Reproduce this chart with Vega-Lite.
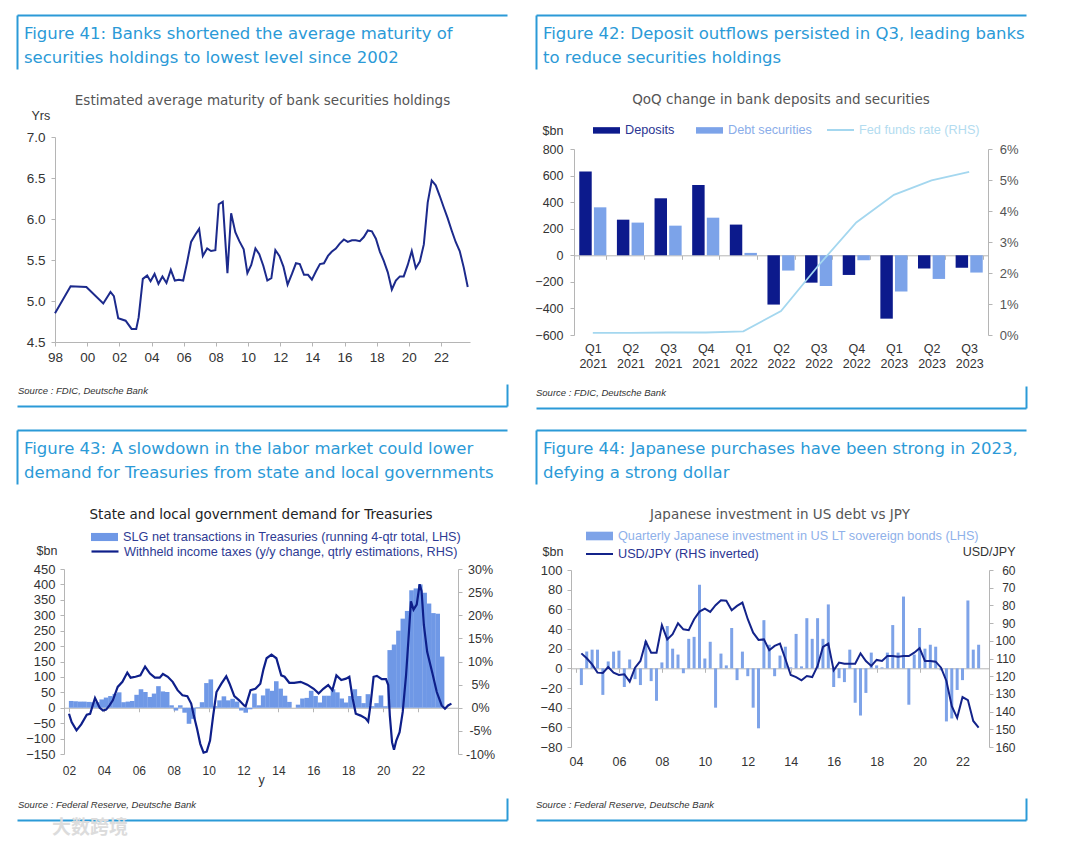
{
  "$schema": "https://vega.github.io/schema/vega-lite/v6.json",
  "background": "white",
  "padding": {"left": 0, "top": 15, "right": 5, "bottom": 2},
  "autosize": {"type": "pad"},
  "config": {
    "font": "Liberation Sans",
    "view": {"stroke": null},
    "axis": {"labelFontSize": 12, "labelColor": "#333", "domainColor": "#b5b5b5", "tickColor": "#b5b5b5", "tickSize": 4, "grid": false, "titleFontWeight": "normal", "titleFontSize": 12.5, "titleColor": "#333", "labelOverlap": false, "labelFlush": false},
    "legend": {"labelFontSize": 12.7, "labelLimit": 600},
    "title": {"fontWeight": "normal", "font": "DejaVu Sans"}
  },
  "title": {"text": "大数跨境", "orient": "bottom", "anchor": "start", "dx": 52, "offset": -1, "fontSize": 19, "font": "Noto Sans CJK SC", "fontWeight": "bold", "color": "#dcdcdc"},
  "resolve": {"scale": {"color": "independent", "stroke": "independent"}},
  "columns": 3,
  "align": "none",
  "spacing": {"row": 22, "column": -20},
  "concat": [
    {"width": 37, "height": 1, "data": {"values": [{}]}, "mark": {"type": "text", "baseline": "top", "fontSize": 1}, "encoding": {"text": {"value": ""}}},
    {
      "resolve": {"scale": {"color": "independent", "stroke": "independent"}},
      "spacing": 16,
      "vconcat": [
        {
          "spacing": 24,
          "vconcat": [
            {
              "width": 452, "height": 54,
              "data": {"values": [{"line": 1, "text": "Figure 41: Banks shortened the average maturity of"}, {"line": 2, "text": "securities holdings to lowest level since 2002"}]},
              "mark": {"type": "text", "align": "left", "baseline": "middle", "dx": 7, "dy": 4, "fontSize": 16.5, "font": "DejaVu Sans", "color": "#2b9ad7"},
              "encoding": {
                "x": {"datum": 0, "type": "quantitative", "scale": {"domain": [0, 1], "range": [-38, 452]}, "axis": {"orient": "top", "domainColor": "#2b9ad7", "domainWidth": 2, "labels": false, "ticks": false, "grid": false, "title": null, "minExtent": 0}},
                "y": {"field": "line", "type": "ordinal", "scale": {"padding": 0.625}, "axis": {"orient": "left", "offset": 38, "domainColor": "#2b9ad7", "domainWidth": 2, "labels": false, "ticks": false, "title": null, "minExtent": 0}},
                "text": {"field": "text"}
              }
            },
            {
              "width": 415, "height": 205,
              "title": {"text": "Estimated average maturity of bank securities holdings", "fontSize": 13.5, "color": "#555", "frame": "group", "anchor": "middle", "offset": 2},
              "data": {"values": [
                {"t": 1998.0, "v": 4.85}, {"t": 1998.97, "v": 5.18}, {"t": 1999.95, "v": 5.17}, {"t": 2001.0, "v": 4.97}, {"t": 2001.45, "v": 5.11}, {"t": 2001.66, "v": 5.06}, {"t": 2001.93, "v": 4.79}, {"t": 2002.39, "v": 4.76}, {"t": 2002.76, "v": 4.66}, {"t": 2003.05, "v": 4.66}, {"t": 2003.2, "v": 4.8}, {"t": 2003.46, "v": 5.27}, {"t": 2003.73, "v": 5.31}, {"t": 2003.94, "v": 5.24}, {"t": 2004.19, "v": 5.33}, {"t": 2004.43, "v": 5.21}, {"t": 2004.68, "v": 5.3}, {"t": 2004.93, "v": 5.22}, {"t": 2005.2, "v": 5.38}, {"t": 2005.45, "v": 5.25}, {"t": 2005.7, "v": 5.26}, {"t": 2005.97, "v": 5.25}, {"t": 2006.21, "v": 5.47}, {"t": 2006.46, "v": 5.72}, {"t": 2006.73, "v": 5.81}, {"t": 2006.96, "v": 5.88}, {"t": 2007.19, "v": 5.55}, {"t": 2007.46, "v": 5.64}, {"t": 2007.7, "v": 5.61}, {"t": 2007.97, "v": 5.62}, {"t": 2008.18, "v": 6.18}, {"t": 2008.43, "v": 6.21}, {"t": 2008.72, "v": 5.34}, {"t": 2008.95, "v": 6.07}, {"t": 2009.21, "v": 5.84}, {"t": 2009.46, "v": 5.73}, {"t": 2009.73, "v": 5.63}, {"t": 2009.96, "v": 5.34}, {"t": 2010.2, "v": 5.44}, {"t": 2010.46, "v": 5.64}, {"t": 2010.7, "v": 5.57}, {"t": 2010.95, "v": 5.43}, {"t": 2011.2, "v": 5.25}, {"t": 2011.45, "v": 5.28}, {"t": 2011.7, "v": 5.62}, {"t": 2011.95, "v": 5.55}, {"t": 2012.2, "v": 5.42}, {"t": 2012.46, "v": 5.2}, {"t": 2012.73, "v": 5.33}, {"t": 2012.98, "v": 5.46}, {"t": 2013.22, "v": 5.45}, {"t": 2013.48, "v": 5.32}, {"t": 2013.73, "v": 5.32}, {"t": 2013.97, "v": 5.26}, {"t": 2014.22, "v": 5.36}, {"t": 2014.47, "v": 5.45}, {"t": 2014.72, "v": 5.46}, {"t": 2014.97, "v": 5.55}, {"t": 2015.2, "v": 5.6}, {"t": 2015.46, "v": 5.64}, {"t": 2015.7, "v": 5.7}, {"t": 2015.96, "v": 5.75}, {"t": 2016.2, "v": 5.72}, {"t": 2016.46, "v": 5.74}, {"t": 2016.7, "v": 5.74}, {"t": 2016.95, "v": 5.73}, {"t": 2017.2, "v": 5.78}, {"t": 2017.45, "v": 5.86}, {"t": 2017.7, "v": 5.85}, {"t": 2017.95, "v": 5.76}, {"t": 2018.2, "v": 5.6}, {"t": 2018.44, "v": 5.49}, {"t": 2018.69, "v": 5.35}, {"t": 2018.94, "v": 5.14}, {"t": 2019.19, "v": 5.25}, {"t": 2019.44, "v": 5.3}, {"t": 2019.68, "v": 5.3}, {"t": 2019.93, "v": 5.44}, {"t": 2020.18, "v": 5.61}, {"t": 2020.43, "v": 5.4}, {"t": 2020.68, "v": 5.48}, {"t": 2020.93, "v": 5.69}, {"t": 2021.17, "v": 6.2}, {"t": 2021.42, "v": 6.47}, {"t": 2021.67, "v": 6.41}, {"t": 2021.92, "v": 6.28}, {"t": 2022.17, "v": 6.14}, {"t": 2022.41, "v": 6.01}, {"t": 2022.66, "v": 5.86}, {"t": 2022.91, "v": 5.72}, {"t": 2023.16, "v": 5.61}, {"t": 2023.41, "v": 5.41}, {"t": 2023.66, "v": 5.17}
              ]},
              "mark": {"type": "line", "color": "#1c2a8c", "strokeWidth": 2},
              "encoding": {
                "x": {"field": "t", "type": "quantitative", "scale": {"domain": [1998, 2023.8], "nice": false, "zero": false}, "axis": {"values": [1998, 2000, 2002, 2004, 2006, 2008, 2010, 2012, 2014, 2016, 2018, 2020, 2022], "labelExpr": "substring(toString(datum.value), 2, 4)", "title": null, "labelPadding": 4, "labelFontSize": 13.5, "minExtent": 26}},
                "y": {"field": "v", "type": "quantitative", "scale": {"domain": [4.5, 7.0], "nice": false, "zero": false}, "axis": {"values": [4.5, 5, 5.5, 6, 6.5, 7], "format": ".1f", "labelPadding": 6, "labelFontSize": 13.5, "minExtent": 38, "title": "Yrs", "titleAngle": 0, "titleAlign": "left", "titleBaseline": "middle", "titleX": -24, "titleY": -22}}
              }
            }
          ]
        },
        {
          "width": 452, "height": 22,
          "data": {"values": [{"src": "Source : FDIC, Deutsche Bank"}]},
          "mark": {"type": "text", "align": "left", "baseline": "middle", "dx": 1, "dy": -4, "fontSize": 9.5, "fontStyle": "italic", "color": "#333"},
          "encoding": {
            "x": {"datum": 0, "type": "quantitative", "scale": {"domain": [0, 1], "range": [-38, 452]}, "axis": {"orient": "bottom", "domainColor": "#2b9ad7", "domainWidth": 2, "labels": false, "ticks": false, "grid": false, "title": null, "minExtent": 0}},
            "y": {"field": "src", "type": "nominal", "axis": {"orient": "right", "domainColor": "#2b9ad7", "domainWidth": 2, "labels": false, "ticks": false, "title": null, "minExtent": 0}},
            "text": {"field": "src"}
          }
        }
      ]
    },
    {
      "resolve": {"scale": {"color": "independent", "stroke": "independent"}},
      "spacing": 16,
      "vconcat": [
        {
          "spacing": 24,
          "resolve": {"scale": {"color": "independent", "stroke": "independent"}},
          "vconcat": [
            {
              "width": 452, "height": 54,
              "data": {"values": [{"line": 1, "text": "Figure 42: Deposit outflows persisted in Q3, leading banks"}, {"line": 2, "text": "to reduce securities holdings"}]},
              "mark": {"type": "text", "align": "left", "baseline": "middle", "dx": 7, "dy": 4, "fontSize": 16.5, "font": "DejaVu Sans", "color": "#2b9ad7"},
              "encoding": {
                "x": {"datum": 0, "type": "quantitative", "scale": {"domain": [0, 1], "range": [-38, 452]}, "axis": {"orient": "top", "domainColor": "#2b9ad7", "domainWidth": 2, "labels": false, "ticks": false, "grid": false, "title": null, "minExtent": 0}},
                "y": {"field": "line", "type": "ordinal", "scale": {"padding": 0.625}, "axis": {"orient": "left", "offset": 38, "domainColor": "#2b9ad7", "domainWidth": 2, "labels": false, "ticks": false, "title": null, "minExtent": 0}},
                "text": {"field": "text"}
              }
            },
            {
              "width": 414, "height": 186,
              "title": {"text": "QoQ change in bank deposits and securities", "fontSize": 13.5, "color": "#555", "frame": "group", "anchor": "middle", "offset": 9},
              "encoding": {
                "x": {"field": "q", "type": "nominal", "scale": {"domain": ["Q1 2021", "Q2 2021", "Q3 2021", "Q4 2021", "Q1 2022", "Q2 2022", "Q3 2022", "Q4 2022", "Q1 2023", "Q2 2023", "Q3 2023"], "paddingInner": 0.28, "paddingOuter": 0.14}, "axis": {"title": null, "labelAngle": 0, "labelExpr": "split(datum.label, ' ')", "offset": -79.7, "labelPadding": 82.7, "tickBand": "extent", "labelLineHeight": 15, "labelFontSize": 12.5}}
              },
              "layer": [
                {
                  "data": {"values": [
                    {"q": "Q1 2021", "s": "Deposits", "v": 630}, {"q": "Q1 2021", "s": "Debt securities", "v": 361},
                    {"q": "Q2 2021", "s": "Deposits", "v": 268}, {"q": "Q2 2021", "s": "Debt securities", "v": 246},
                    {"q": "Q3 2021", "s": "Deposits", "v": 429}, {"q": "Q3 2021", "s": "Debt securities", "v": 223},
                    {"q": "Q4 2021", "s": "Deposits", "v": 529}, {"q": "Q4 2021", "s": "Debt securities", "v": 283},
                    {"q": "Q1 2022", "s": "Deposits", "v": 231}, {"q": "Q1 2022", "s": "Debt securities", "v": 18},
                    {"q": "Q2 2022", "s": "Deposits", "v": -371}, {"q": "Q2 2022", "s": "Debt securities", "v": -115},
                    {"q": "Q3 2022", "s": "Deposits", "v": -206}, {"q": "Q3 2022", "s": "Debt securities", "v": -231},
                    {"q": "Q4 2022", "s": "Deposits", "v": -148}, {"q": "Q4 2022", "s": "Debt securities", "v": -38},
                    {"q": "Q1 2023", "s": "Deposits", "v": -477}, {"q": "Q1 2023", "s": "Debt securities", "v": -273},
                    {"q": "Q2 2023", "s": "Deposits", "v": -100}, {"q": "Q2 2023", "s": "Debt securities", "v": -178},
                    {"q": "Q3 2023", "s": "Deposits", "v": -93}, {"q": "Q3 2023", "s": "Debt securities", "v": -130}
                  ]},
                  "mark": {"type": "bar"},
                  "encoding": {
                    "xOffset": {"field": "s", "type": "nominal", "sort": ["Deposits", "Debt securities"], "scale": {"paddingInner": 0.15}},
                    "y": {"field": "v", "type": "quantitative", "scale": {"domain": [-600, 800], "nice": false}, "axis": {"values": [-600, -400, -200, 0, 200, 400, 600, 800], "labelPadding": 7, "labelFontSize": 12.5, "minExtent": 49, "title": "$bn", "titleAngle": 0, "titleAlign": "left", "titleBaseline": "middle", "titleX": -32, "titleY": -19}},
                    "color": {"field": "s", "type": "nominal", "scale": {"domain": ["Deposits", "Debt securities"], "range": ["#0c1a8c", "#7ca3e9"]}, "legend": {"orient": "none", "legendX": 18, "legendY": -33.5, "direction": "horizontal", "title": null, "symbolType": "M-1,-0.24H1V0.24H-1Z", "symbolSize": 729, "columnPadding": 20, "labelOffset": 4, "encode": {"labels": {"update": {"fill": {"signal": "datum.value === 'Deposits' ? '#2a3592' : '#8aade9'"}}}}}}
                  }
                },
                {
                  "data": {"values": [
                    {"q": "Q1 2021", "r": 0.07}, {"q": "Q2 2021", "r": 0.07}, {"q": "Q3 2021", "r": 0.08}, {"q": "Q4 2021", "r": 0.08}, {"q": "Q1 2022", "r": 0.12}, {"q": "Q2 2022", "r": 0.77}, {"q": "Q3 2022", "r": 2.25}, {"q": "Q4 2022", "r": 3.63}, {"q": "Q1 2023", "r": 4.52}, {"q": "Q2 2023", "r": 4.99}, {"q": "Q3 2023", "r": 5.26}
                  ]},
                  "mark": {"type": "line", "strokeWidth": 1.8},
                  "encoding": {
                    "y": {"field": "r", "type": "quantitative", "scale": {"domain": [0, 6], "nice": false}, "axis": {"orient": "right", "values": [0, 1, 2, 3, 4, 5, 6], "labelExpr": "datum.value + '%'", "labelAlign": "right", "labelPadding": 26, "labelFontSize": 13, "labelColor": "#555", "title": null}},
                    "stroke": {"datum": "Fed funds rate (RHS)", "scale": {"range": ["#a4d7ef"]}, "legend": {"orient": "none", "legendX": 252, "legendY": -33.5, "title": null, "symbolType": "stroke", "symbolSize": 729, "symbolStrokeWidth": 2, "labelColor": "#b3dcf0"}}
                  }
                }
              ],
              "resolve": {"scale": {"y": "independent"}}
            }
          ]
        },
        {
          "width": 452, "height": 22,
          "data": {"values": [{"src": "Source : FDIC, Deutsche Bank"}]},
          "mark": {"type": "text", "align": "left", "baseline": "middle", "dx": 0, "dy": -4, "fontSize": 9.5, "fontStyle": "italic", "color": "#333"},
          "encoding": {
            "x": {"datum": 0, "type": "quantitative", "scale": {"domain": [0, 1], "range": [-38, 452]}, "axis": {"orient": "bottom", "domainColor": "#2b9ad7", "domainWidth": 2, "labels": false, "ticks": false, "grid": false, "title": null, "minExtent": 0}},
            "y": {"field": "src", "type": "nominal", "axis": {"orient": "right", "domainColor": "#2b9ad7", "domainWidth": 2, "labels": false, "ticks": false, "title": null, "minExtent": 0}},
            "text": {"field": "src"}
          }
        }
      ]
    },
    {"width": 37, "height": 1, "data": {"values": [{}]}, "mark": {"type": "text", "baseline": "top", "fontSize": 1}, "encoding": {"text": {"value": ""}}},
    {
      "resolve": {"scale": {"color": "independent", "stroke": "independent"}},
      "spacing": 11,
      "vconcat": [
        {
          "spacing": 24,
          "resolve": {"scale": {"color": "independent", "stroke": "independent"}},
          "vconcat": [
            {
              "width": 443, "height": 54,
              "data": {"values": [{"line": 1, "text": "Figure 43: A slowdown in the labor market could lower"}, {"line": 2, "text": "demand for Treasuries from state and local governments"}]},
              "mark": {"type": "text", "align": "left", "baseline": "middle", "dx": 7, "dy": 4, "fontSize": 16.5, "font": "DejaVu Sans", "color": "#2b9ad7"},
              "encoding": {
                "x": {"datum": 0, "type": "quantitative", "scale": {"domain": [0, 1], "range": [-47, 443]}, "axis": {"orient": "top", "domainColor": "#2b9ad7", "domainWidth": 2, "labels": false, "ticks": false, "grid": false, "title": null, "minExtent": 0}},
                "y": {"field": "line", "type": "ordinal", "scale": {"padding": 0.625}, "axis": {"orient": "left", "offset": 47, "domainColor": "#2b9ad7", "domainWidth": 2, "labels": false, "ticks": false, "title": null, "minExtent": 0}},
                "text": {"field": "text"}
              }
            },
            {
              "width": 394, "height": 185,
              "title": {"text": "State and local government demand for Treasuries", "fontSize": 13.5, "color": "#222", "frame": "group", "anchor": "middle", "offset": 1},
              "encoding": {
                "x": {"field": "t", "type": "quantitative", "scale": {"domain": [2002, 2024], "nice": false, "zero": false}, "axis": {"values": [2002, 2004, 2006, 2008, 2010, 2012, 2014, 2016, 2018, 2020, 2022], "labelExpr": "substring(toString(datum.value), 2, 4)", "offset": -46.25, "labelPadding": 54, "labelFontSize": 12, "title": "y", "titlePadding": -3}}
              },
              "layer": [
                {
                  "data": {"values": [
                    {"t": 2002.125, "v": 22}, {"t": 2002.375, "v": 21}, {"t": 2002.625, "v": 20}, {"t": 2002.875, "v": 20}, {"t": 2003.125, "v": 19}, {"t": 2003.375, "v": 18}, {"t": 2003.625, "v": 18}, {"t": 2003.875, "v": 27}, {"t": 2004.125, "v": 33}, {"t": 2004.375, "v": 38}, {"t": 2004.625, "v": 45}, {"t": 2004.875, "v": 50}, {"t": 2005.125, "v": 18}, {"t": 2005.375, "v": 20}, {"t": 2005.625, "v": 22}, {"t": 2005.875, "v": 42}, {"t": 2006.125, "v": 60}, {"t": 2006.375, "v": 51}, {"t": 2006.625, "v": 35}, {"t": 2006.875, "v": 46}, {"t": 2007.125, "v": 70}, {"t": 2007.375, "v": 53}, {"t": 2007.625, "v": 51}, {"t": 2007.875, "v": 8}, {"t": 2008.125, "v": -9}, {"t": 2008.375, "v": 8}, {"t": 2008.625, "v": -16}, {"t": 2008.875, "v": -52}, {"t": 2009.125, "v": -36}, {"t": 2009.375, "v": 2}, {"t": 2009.625, "v": 18}, {"t": 2009.875, "v": 80}, {"t": 2010.125, "v": 92}, {"t": 2010.375, "v": 5}, {"t": 2010.625, "v": 24}, {"t": 2010.875, "v": 37}, {"t": 2011.125, "v": 24}, {"t": 2011.375, "v": 29}, {"t": 2011.625, "v": 20}, {"t": 2011.875, "v": -9}, {"t": 2012.125, "v": -16}, {"t": 2012.375, "v": -5}, {"t": 2012.625, "v": 46}, {"t": 2012.875, "v": 8}, {"t": 2013.125, "v": 40}, {"t": 2013.375, "v": 62}, {"t": 2013.625, "v": 55}, {"t": 2013.875, "v": 86}, {"t": 2014.125, "v": 62}, {"t": 2014.375, "v": 39}, {"t": 2014.625, "v": 19}, {"t": 2014.875, "v": 0}, {"t": 2015.125, "v": 10}, {"t": 2015.375, "v": 30}, {"t": 2015.625, "v": 32}, {"t": 2015.875, "v": 55}, {"t": 2016.125, "v": 38}, {"t": 2016.375, "v": 17}, {"t": 2016.625, "v": 39}, {"t": 2016.875, "v": 39}, {"t": 2017.125, "v": 60}, {"t": 2017.375, "v": 50}, {"t": 2017.625, "v": 30}, {"t": 2017.875, "v": 17}, {"t": 2018.125, "v": 38}, {"t": 2018.375, "v": 60}, {"t": 2018.625, "v": 38}, {"t": 2018.875, "v": 15}, {"t": 2019.125, "v": 44}, {"t": 2019.375, "v": 5}, {"t": 2019.625, "v": 15}, {"t": 2019.875, "v": 40}, {"t": 2020.125, "v": 5}, {"t": 2020.375, "v": 187}, {"t": 2020.625, "v": 205}, {"t": 2020.875, "v": 250}, {"t": 2021.125, "v": 289}, {"t": 2021.375, "v": 314}, {"t": 2021.625, "v": 381}, {"t": 2021.875, "v": 387}, {"t": 2022.125, "v": 400}, {"t": 2022.375, "v": 373}, {"t": 2022.625, "v": 338}, {"t": 2022.875, "v": 307}, {"t": 2023.125, "v": 305}, {"t": 2023.375, "v": 166}
                  ]},
                  "mark": {"type": "bar", "size": 4.6},
                  "encoding": {
                    "y": {"field": "v", "type": "quantitative", "scale": {"domain": [-150, 450], "nice": false}, "axis": {"values": [-150, -100, -50, 0, 50, 100, 150, 200, 250, 300, 350, 400, 450], "labelPadding": 5, "labelFontSize": 13, "minExtent": 47, "title": "$bn", "titleAngle": 0, "titleAlign": "left", "titleBaseline": "middle", "titleX": -28, "titleY": -19}},
                    "color": {"datum": "SLG net transactions in Treasuries (running 4-qtr total, LHS)", "type": "nominal", "scale": {"range": ["#6f98e6"]}, "legend": {"orient": "none", "legendX": 26, "legendY": -46.5, "title": null, "symbolType": "M-1,-0.3H1V0.3H-1Z", "symbolSize": 729, "labelColor": "#2e3b94"}}
                  }
                },
                {
                  "data": {"values": [
                    {"t": 2002.0, "p": -1.3}, {"t": 2002.15, "p": -3.1}, {"t": 2002.43, "p": -4.9}, {"t": 2002.7, "p": -3.6}, {"t": 2003.02, "p": -1.5}, {"t": 2003.21, "p": -1.3}, {"t": 2003.49, "p": 2.1}, {"t": 2003.76, "p": 0.0}, {"t": 2003.95, "p": -0.6}, {"t": 2004.13, "p": -0.4}, {"t": 2004.32, "p": 0.5}, {"t": 2004.51, "p": 1.6}, {"t": 2004.79, "p": 4.5}, {"t": 2005.06, "p": 5.6}, {"t": 2005.34, "p": 7.6}, {"t": 2005.53, "p": 6.5}, {"t": 2005.81, "p": 6.7}, {"t": 2006.09, "p": 7.0}, {"t": 2006.36, "p": 8.9}, {"t": 2006.64, "p": 7.4}, {"t": 2006.92, "p": 6.5}, {"t": 2007.2, "p": 6.5}, {"t": 2007.38, "p": 7.3}, {"t": 2007.66, "p": 6.7}, {"t": 2007.94, "p": 5.6}, {"t": 2008.22, "p": 3.8}, {"t": 2008.5, "p": 2.7}, {"t": 2008.78, "p": 2.5}, {"t": 2009.0, "p": 0.9}, {"t": 2009.15, "p": -1.7}, {"t": 2009.34, "p": -4.6}, {"t": 2009.52, "p": -7.8}, {"t": 2009.71, "p": -9.7}, {"t": 2009.89, "p": -9.5}, {"t": 2010.08, "p": -7.1}, {"t": 2010.26, "p": -1.7}, {"t": 2010.45, "p": 3.4}, {"t": 2010.73, "p": 5.2}, {"t": 2011.01, "p": 6.8}, {"t": 2011.2, "p": 5.2}, {"t": 2011.47, "p": 2.5}, {"t": 2011.75, "p": 1.6}, {"t": 2012.03, "p": 0.5}, {"t": 2012.12, "p": 0.3}, {"t": 2012.4, "p": 3.8}, {"t": 2012.68, "p": 4.1}, {"t": 2012.96, "p": 5.2}, {"t": 2013.14, "p": 8.3}, {"t": 2013.32, "p": 10.7}, {"t": 2013.6, "p": 11.5}, {"t": 2013.88, "p": 10.7}, {"t": 2014.16, "p": 7.0}, {"t": 2014.35, "p": 6.7}, {"t": 2014.62, "p": 5.4}, {"t": 2014.9, "p": 5.4}, {"t": 2015.27, "p": 5.6}, {"t": 2015.65, "p": 5.0}, {"t": 2016.02, "p": 4.1}, {"t": 2016.3, "p": 3.1}, {"t": 2016.57, "p": 4.1}, {"t": 2016.85, "p": 4.9}, {"t": 2017.09, "p": 3.8}, {"t": 2017.32, "p": 7.0}, {"t": 2017.6, "p": 6.0}, {"t": 2017.87, "p": 6.3}, {"t": 2018.06, "p": 6.7}, {"t": 2018.25, "p": 2.0}, {"t": 2018.43, "p": -1.3}, {"t": 2018.71, "p": -1.7}, {"t": 2018.99, "p": -2.3}, {"t": 2019.14, "p": -3.0}, {"t": 2019.27, "p": 0.5}, {"t": 2019.45, "p": 6.7}, {"t": 2019.64, "p": 6.9}, {"t": 2019.92, "p": 6.2}, {"t": 2020.16, "p": 6.2}, {"t": 2020.29, "p": 4.9}, {"t": 2020.38, "p": -1.7}, {"t": 2020.51, "p": -7.5}, {"t": 2020.62, "p": -9.1}, {"t": 2020.75, "p": -7.1}, {"t": 2020.94, "p": -5.3}, {"t": 2021.12, "p": -0.9}, {"t": 2021.31, "p": 7.0}, {"t": 2021.44, "p": 14.3}, {"t": 2021.59, "p": 23.0}, {"t": 2021.74, "p": 21.2}, {"t": 2021.92, "p": 22.3}, {"t": 2022.09, "p": 26.7}, {"t": 2022.2, "p": 25.2}, {"t": 2022.33, "p": 17.9}, {"t": 2022.52, "p": 12.1}, {"t": 2022.8, "p": 7.8}, {"t": 2023.07, "p": 3.4}, {"t": 2023.35, "p": 0.5}, {"t": 2023.54, "p": -0.2}, {"t": 2023.72, "p": 0.5}, {"t": 2023.91, "p": 0.9}
                  ]},
                  "mark": {"type": "line", "strokeWidth": 2.2},
                  "encoding": {
                    "y": {"field": "p", "type": "quantitative", "scale": {"domain": [-10, 30], "nice": false}, "axis": {"orient": "right", "values": [-10, -5, 0, 5, 10, 15, 20, 25, 30], "labelExpr": "datum.value + '%'", "labelAlign": "center", "labelPadding": 18, "labelFontSize": 12.5, "title": null}},
                    "stroke": {"datum": "Withheld income taxes (y/y change, qtrly estimations, RHS)", "scale": {"range": ["#0e1f8a"]}, "legend": {"orient": "none", "legendX": 26, "legendY": -32.5, "title": null, "symbolType": "stroke", "symbolSize": 729, "symbolStrokeWidth": 2.2, "labelColor": "#2e3b94"}}
                  }
                }
              ],
              "resolve": {"scale": {"y": "independent"}}
            }
          ]
        },
        {
          "width": 443, "height": 22,
          "data": {"values": [{"src": "Source : Federal Reserve, Deutsche Bank"}]},
          "mark": {"type": "text", "align": "left", "baseline": "middle", "dx": 1, "dy": -4, "fontSize": 9.5, "fontStyle": "italic", "color": "#333"},
          "encoding": {
            "x": {"datum": 0, "type": "quantitative", "scale": {"domain": [0, 1], "range": [-47, 443]}, "axis": {"orient": "bottom", "domainColor": "#2b9ad7", "domainWidth": 2, "labels": false, "ticks": false, "grid": false, "title": null, "minExtent": 0}},
            "y": {"field": "src", "type": "nominal", "axis": {"orient": "right", "domainColor": "#2b9ad7", "domainWidth": 2, "labels": false, "ticks": false, "title": null, "minExtent": 0}},
            "text": {"field": "src"}
          }
        }
      ]
    },
    {
      "resolve": {"scale": {"color": "independent", "stroke": "independent"}},
      "spacing": 11,
      "vconcat": [
        {
          "spacing": 24,
          "resolve": {"scale": {"color": "independent", "stroke": "independent"}},
          "vconcat": [
            {
              "width": 455, "height": 54,
              "data": {"values": [{"line": 1, "text": "Figure 44: Japanese purchases have been strong in 2023,"}, {"line": 2, "text": "defying a strong dollar"}]},
              "mark": {"type": "text", "align": "left", "baseline": "middle", "dx": 7, "dy": 4, "fontSize": 16.5, "font": "DejaVu Sans", "color": "#2b9ad7"},
              "encoding": {
                "x": {"datum": 0, "type": "quantitative", "scale": {"domain": [0, 1], "range": [-35, 455]}, "axis": {"orient": "top", "domainColor": "#2b9ad7", "domainWidth": 2, "labels": false, "ticks": false, "grid": false, "title": null, "minExtent": 0}},
                "y": {"field": "line", "type": "ordinal", "scale": {"padding": 0.625}, "axis": {"orient": "left", "offset": 35, "domainColor": "#2b9ad7", "domainWidth": 2, "labels": false, "ticks": false, "title": null, "minExtent": 0}},
                "text": {"field": "text"}
              }
            },
            {
              "width": 418, "height": 177,
              "title": {"text": "Japanese investment in US debt vs JPY", "fontSize": 13.5, "color": "#555", "frame": "group", "anchor": "middle", "offset": 0},
              "encoding": {
                "x": {"field": "t", "type": "quantitative", "scale": {"domain": [2004, 2023], "nice": false, "zero": false}, "axis": {"values": [2004, 2006, 2008, 2010, 2012, 2014, 2016, 2018, 2020, 2022], "labelExpr": "substring(toString(datum.value), 2, 4)", "offset": -78.7, "labelPadding": 82.7, "labelFontSize": 12.5, "minExtent": 118.5, "title": null}}
              },
              "layer": [
                {
                  "data": {"values": [
                    {"t": 2004.25, "v": -17}, {"t": 2004.5, "v": 17}, {"t": 2004.75, "v": 19}, {"t": 2005.0, "v": 19}, {"t": 2005.25, "v": -27}, {"t": 2005.5, "v": 7}, {"t": 2005.75, "v": 17}, {"t": 2006.0, "v": 18}, {"t": 2006.25, "v": -19}, {"t": 2006.5, "v": 9}, {"t": 2006.75, "v": -11}, {"t": 2007.0, "v": -17}, {"t": 2007.25, "v": 28}, {"t": 2007.5, "v": -13}, {"t": 2007.75, "v": -33}, {"t": 2008.0, "v": 6}, {"t": 2008.25, "v": 43}, {"t": 2008.5, "v": 20}, {"t": 2008.75, "v": 14}, {"t": 2009.0, "v": -5}, {"t": 2009.25, "v": 30}, {"t": 2009.5, "v": 32}, {"t": 2009.75, "v": 85}, {"t": 2010.0, "v": 10}, {"t": 2010.25, "v": 27}, {"t": 2010.5, "v": -40}, {"t": 2010.75, "v": 15}, {"t": 2011.0, "v": 3}, {"t": 2011.25, "v": 41}, {"t": 2011.5, "v": -12}, {"t": 2011.75, "v": 17}, {"t": 2012.0, "v": -8}, {"t": 2012.25, "v": -40}, {"t": 2012.5, "v": -61}, {"t": 2012.75, "v": 49}, {"t": 2013.0, "v": 24}, {"t": 2013.25, "v": -8}, {"t": 2013.5, "v": 13}, {"t": 2013.75, "v": 22}, {"t": 2014.0, "v": 1}, {"t": 2014.25, "v": 35}, {"t": 2014.5, "v": 2}, {"t": 2014.75, "v": 51}, {"t": 2015.0, "v": 30}, {"t": 2015.25, "v": 51}, {"t": 2015.5, "v": 30}, {"t": 2015.75, "v": 65}, {"t": 2016.0, "v": -19}, {"t": 2016.25, "v": -10}, {"t": 2016.5, "v": -14}, {"t": 2016.75, "v": 19}, {"t": 2017.0, "v": -35}, {"t": 2017.25, "v": -48}, {"t": 2017.5, "v": -25}, {"t": 2017.75, "v": 16}, {"t": 2018.0, "v": 3}, {"t": 2018.25, "v": 1}, {"t": 2018.5, "v": 16}, {"t": 2018.75, "v": 44}, {"t": 2019.0, "v": 16}, {"t": 2019.25, "v": 73}, {"t": 2019.5, "v": -37}, {"t": 2019.75, "v": 14}, {"t": 2020.0, "v": 41}, {"t": 2020.25, "v": 20}, {"t": 2020.5, "v": 24}, {"t": 2020.75, "v": 22}, {"t": 2021.0, "v": -2}, {"t": 2021.25, "v": -54}, {"t": 2021.5, "v": -51}, {"t": 2021.75, "v": -22}, {"t": 2022.0, "v": -12}, {"t": 2022.25, "v": 69}, {"t": 2022.5, "v": 19}, {"t": 2022.75, "v": 24}
                  ]},
                  "mark": {"type": "bar", "size": 3},
                  "encoding": {
                    "y": {"field": "v", "type": "quantitative", "scale": {"domain": [-80, 100], "nice": false}, "axis": {"values": [-80, -60, -40, -20, 0, 20, 40, 60, 80, 100], "labelPadding": 5, "labelFontSize": 13, "minExtent": 37, "title": "$bn", "titleAngle": 0, "titleAlign": "left", "titleBaseline": "middle", "titleX": -29, "titleY": -19}},
                    "color": {"datum": "Quarterly Japanese investment in US LT sovereign bonds (LHS)", "type": "nominal", "scale": {"range": ["#7ea3e8"]}, "legend": {"orient": "none", "legendX": 14, "legendY": -48.5, "title": null, "symbolType": "M-1,-0.32H1V0.32H-1Z", "symbolSize": 729, "labelColor": "#8fb1ea"}}
                  }
                },
                {
                  "data": {"values": [
                    {"t": 2004.25, "j": 107.1}, {"t": 2004.5, "j": 109.9}, {"t": 2004.75, "j": 113.3}, {"t": 2005.0, "j": 118.0}, {"t": 2005.25, "j": 118.2}, {"t": 2005.5, "j": 114.8}, {"t": 2005.75, "j": 118.0}, {"t": 2006.0, "j": 119.3}, {"t": 2006.25, "j": 118.9}, {"t": 2006.5, "j": 123.1}, {"t": 2006.75, "j": 115.2}, {"t": 2007.0, "j": 111.4}, {"t": 2007.25, "j": 100.4}, {"t": 2007.5, "j": 106.7}, {"t": 2007.75, "j": 106.7}, {"t": 2008.0, "j": 91.2}, {"t": 2008.25, "j": 99.2}, {"t": 2008.5, "j": 96.3}, {"t": 2008.75, "j": 90.1}, {"t": 2009.0, "j": 93.5}, {"t": 2009.25, "j": 94.0}, {"t": 2009.5, "j": 87.8}, {"t": 2009.75, "j": 83.5}, {"t": 2010.0, "j": 81.8}, {"t": 2010.25, "j": 83.7}, {"t": 2010.5, "j": 79.9}, {"t": 2010.75, "j": 77.1}, {"t": 2011.0, "j": 77.4}, {"t": 2011.25, "j": 82.7}, {"t": 2011.5, "j": 80.3}, {"t": 2011.75, "j": 78.4}, {"t": 2012.0, "j": 87.8}, {"t": 2012.25, "j": 95.4}, {"t": 2012.5, "j": 99.5}, {"t": 2012.75, "j": 99.2}, {"t": 2013.0, "j": 105.3}, {"t": 2013.25, "j": 102.9}, {"t": 2013.5, "j": 101.6}, {"t": 2013.75, "j": 110.3}, {"t": 2014.0, "j": 119.3}, {"t": 2014.25, "j": 120.5}, {"t": 2014.5, "j": 122.3}, {"t": 2014.75, "j": 119.9}, {"t": 2015.0, "j": 120.5}, {"t": 2015.25, "j": 114.2}, {"t": 2015.5, "j": 103.5}, {"t": 2015.75, "j": 101.6}, {"t": 2016.0, "j": 116.7}, {"t": 2016.25, "j": 112.3}, {"t": 2016.5, "j": 112.9}, {"t": 2016.75, "j": 112.9}, {"t": 2017.0, "j": 112.9}, {"t": 2017.25, "j": 107.1}, {"t": 2017.5, "j": 111.4}, {"t": 2017.75, "j": 114.2}, {"t": 2018.0, "j": 110.8}, {"t": 2018.25, "j": 111.4}, {"t": 2018.5, "j": 108.6}, {"t": 2018.75, "j": 108.6}, {"t": 2019.0, "j": 109.0}, {"t": 2019.25, "j": 108.6}, {"t": 2019.5, "j": 108.6}, {"t": 2019.75, "j": 106.7}, {"t": 2020.0, "j": 104.2}, {"t": 2020.25, "j": 111.4}, {"t": 2020.5, "j": 111.4}, {"t": 2020.75, "j": 111.8}, {"t": 2021.0, "j": 115.2}, {"t": 2021.25, "j": 122.7}, {"t": 2021.5, "j": 136.9}, {"t": 2021.75, "j": 143.5}, {"t": 2022.0, "j": 131.8}, {"t": 2022.25, "j": 133.5}, {"t": 2022.5, "j": 145.3}, {"t": 2022.75, "j": 149.1}
                  ]},
                  "mark": {"type": "line", "strokeWidth": 2},
                  "encoding": {
                    "y": {"field": "j", "type": "quantitative", "scale": {"domain": [60, 160], "reverse": true, "nice": false, "zero": false}, "axis": {"orient": "right", "values": [60, 70, 80, 90, 100, 110, 120, 130, 140, 150, 160], "labelAlign": "right", "labelPadding": 22, "labelFontSize": 12, "title": "USD/JPY", "titleAngle": 0, "titleAlign": "right", "titleBaseline": "middle", "titleX": 26, "titleY": -19}},
                    "stroke": {"datum": "USD/JPY (RHS inverted)", "scale": {"range": ["#13238a"]}, "legend": {"orient": "none", "legendX": 14, "legendY": -30.5, "title": null, "symbolType": "stroke", "symbolSize": 729, "symbolStrokeWidth": 2, "labelColor": "#2a3592"}}
                  }
                }
              ],
              "resolve": {"scale": {"y": "independent"}}
            }
          ]
        },
        {
          "width": 455, "height": 22,
          "data": {"values": [{"src": "Source : Federal Reserve, Deutsche Bank"}]},
          "mark": {"type": "text", "align": "left", "baseline": "middle", "dx": 0, "dy": -4, "fontSize": 9.5, "fontStyle": "italic", "color": "#333"},
          "encoding": {
            "x": {"datum": 0, "type": "quantitative", "scale": {"domain": [0, 1], "range": [-35, 455]}, "axis": {"orient": "bottom", "domainColor": "#2b9ad7", "domainWidth": 2, "labels": false, "ticks": false, "grid": false, "title": null, "minExtent": 0}},
            "y": {"field": "src", "type": "nominal", "axis": {"orient": "right", "domainColor": "#2b9ad7", "domainWidth": 2, "labels": false, "ticks": false, "title": null, "minExtent": 0}},
            "text": {"field": "src"}
          }
        }
      ]
    }
  ]
}
